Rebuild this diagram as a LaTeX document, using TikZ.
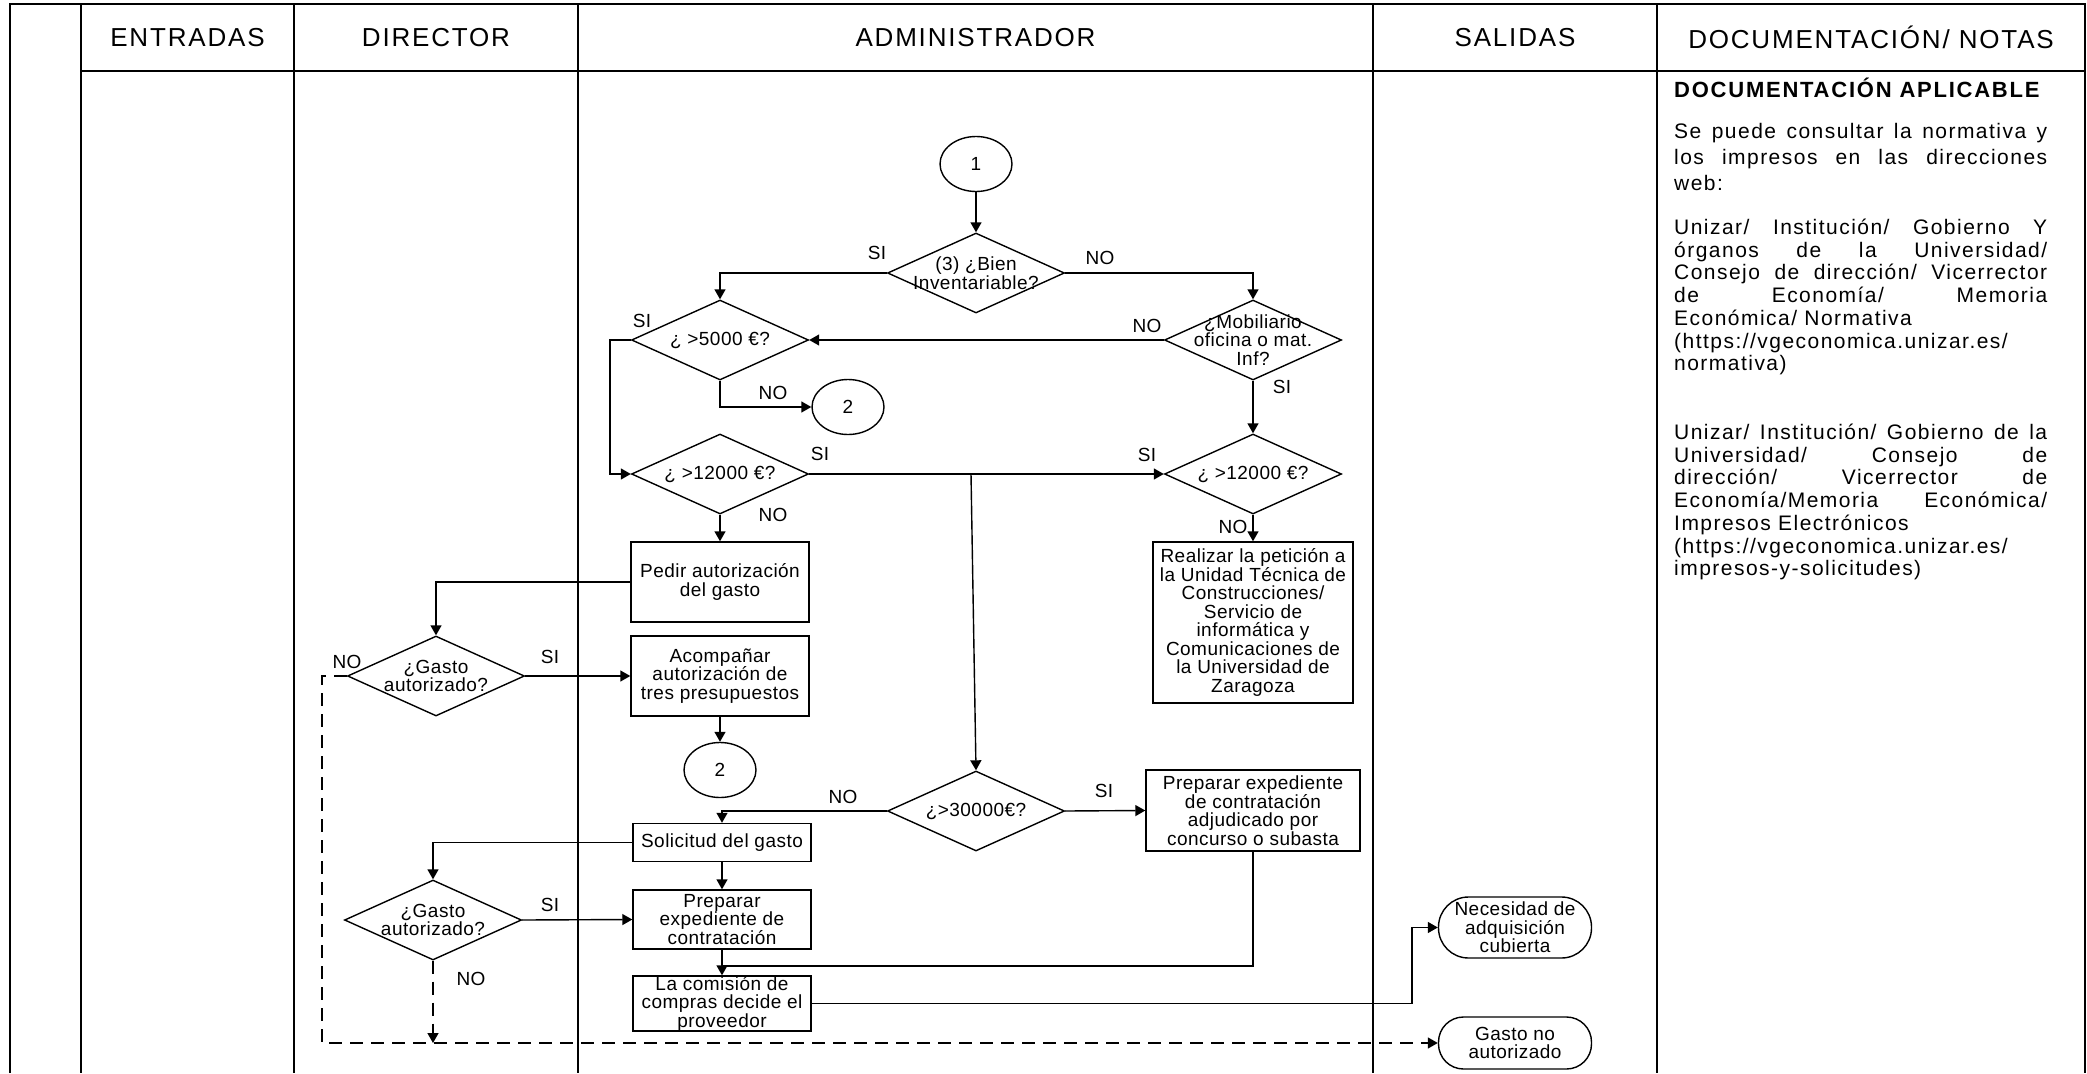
\documentclass[tikz,border=0pt]{standalone}
\usepackage{fontspec}
\setmainfont{Liberation Sans}
\newfontfamily\hdrfam{Liberation Sans}[LetterSpace=7]
\newfontfamily\flowfam{Liberation Sans}[LetterSpace=2.5]
\newfontfamily\docfam{Liberation Sans}[LetterSpace=7]
\newfontfamily\docboldfam{Liberation Sans}[LetterSpace=8]
\newcommand\hdrsize{\hdrfam\fontsize{26}{30}\selectfont}
\newcommand\flowsize{\flowfam\fontsize{19}{18.5}\selectfont}
\newcommand\docsize{\docfam\fontsize{21}{22.7}\selectfont}
\newcommand\docheadsize{\docboldfam\bfseries\fontsize{22}{22.7}\selectfont}
\newcommand\jline[1]{\makebox[373pt][s]{#1}}
\usetikzlibrary{arrows.meta,shapes.geometric}
\begin{document}
\begin{tikzpicture}[x=1pt,y=-1pt,
  lane/.style={line width=2pt},
  hdr/.style={font=\hdrsize, inner sep=0},
  flow/.style={line width=1.4pt, -{Triangle[length=10pt,width=11pt]}},
  plain/.style={line width=1.4pt},
  dashflow/.style={line width=1.4pt, dash pattern=on 13pt off 8pt, -{Triangle[length=10pt,width=11pt]}},
  box/.style={draw, line width=1.4pt, rectangle, inner sep=0, align=center, font=\flowsize, minimum width=178pt},
  dec/.style={draw, line width=1.4pt, diamond, inner sep=0, minimum width=177pt, minimum height=80pt},
  dtxt/.style={font=\flowsize, align=center, inner sep=0},
  conn/.style={draw, line width=1.4pt, ellipse, inner sep=0, minimum width=72pt, minimum height=55pt, font=\flowsize},
  term/.style={draw, line width=1.4pt, rectangle, inner sep=0, align=center, font=\flowsize, minimum width=153pt},
  lbl/.style={font=\flowsize, inner sep=0},
  doctxt/.style={font=\docsize, inner sep=0, anchor=base west},
  dochead/.style={font=\docheadsize, inner sep=0, anchor=base west}]
\useasboundingbox (0,0) rectangle (2087,1073);

% ---- table ----
\draw[lane] (10,1073) -- (10,4) -- (2085,4) -- (2085,1073);
\draw[lane] (81,71) -- (2085,71);
\foreach \xx in {81,294,578,1373,1657} \draw[lane] (\xx,4) -- (\xx,1073);

\node[hdr] (hE) at (187.5,37.5) {ENTRADAS};
\node[hdr] (hD) at (436,37.5) {DIRECTOR};
\node[hdr] (hA) at (975.5,37.5) {ADMINISTRADOR};
\node[hdr] (hS) at (1515,37.5) {SALIDAS};
\node[hdr] (hN) at (1871,37.5) {DOCUMENTACIÓN/ NOTAS};

% ---- flowchart nodes ----
\node[conn] (c1) at (976,164) {1};
\node[dec, label={[dtxt]center:{(3) ¿Bien\\Inventariable?}}] (d1) at (976,273) {};
\node[dec, label={[dtxt]center:{¿Mobiliario\\oficina o mat.\\Inf?}}] (dmob) at (1253,340) {};
\node[dec, label={[dtxt]center:{¿ >5000 €?}}] (d5) at (720,340) {};
\node[conn] (c2a) at (848,407) {2};
\node[dec, label={[dtxt]center:{¿ >12000 €?}}] (d12) at (720,474) {};
\node[dec, label={[dtxt]center:{¿ >12000 €?}}] (d12b) at (1253,474) {};
\node[box, minimum height=80pt] (pedir) at (720,582) {Pedir autorización\\del gasto};
\node[box, minimum width=200pt, minimum height=161pt] (real) at (1253,622.5) {Realizar la petición a\\la Unidad Técnica de\\Construcciones/\\Servicio de\\informática y\\Comunicaciones de\\la Universidad de\\Zaragoza};
\node[dec, label={[dtxt]center:{¿Gasto\\autorizado?}}] (dg1) at (436,676) {};
\node[box, minimum height=80pt] (acomp) at (720,676) {Acompañar\\autorización de\\tres presupuestos};
\node[conn] (c2b) at (720,770) {2};
\node[dec, label={[dtxt]center:{¿>30000€?}}] (d30) at (976,811) {};
\node[box, minimum width=214pt, minimum height=81pt] (psub) at (1253,810.5) {Preparar expediente\\de contratación\\adjudicado por\\concurso o subasta};
\node[box, minimum height=38pt] (solic) at (722,842.5) {Solicitud del gasto};
\node[dec, label={[dtxt]center:{¿Gasto\\autorizado?}}] (dg2) at (433,920) {};
\node[box, minimum height=59pt] (prep) at (722,919.5) {Preparar\\expediente de\\contratación};
\node[box, minimum height=55pt] (com) at (722,1003.5) {La comisión de\\compras decide el\\proveedor};
\node[term, minimum height=61pt, rounded corners=30pt] (nec) at (1515,927.5) {Necesidad de\\adquisición\\cubierta};
\node[term, minimum height=52pt, rounded corners=25pt] (gno) at (1515,1043) {Gasto no\\autorizado};

% ---- helper coordinates ----
\coordinate (lx) at (610,0);
\coordinate (dx) at (322,0);
\coordinate (br) at (971,474);
\coordinate (jn) at (0,966);
\coordinate (kx) at (1412,0);

% ---- connectors ----
\draw[flow] (c1.south) -- (d1.north);
\draw[flow] (d1.west) -| (d5.north);
\draw[flow] (d1.east) -| (dmob.north);
\draw[flow] (dmob.west) -- (d5.east);
\draw[flow] (d5.west) -- (d5.west -| lx) |- (d12.west);
\draw[flow] (d5.south) |- (c2a.west);
\draw[flow] (d12.east) -- (d12b.west);
\draw[flow] (br) -- (d30.north);
\draw[flow] (d12.south) -- (pedir.north);
\draw[flow] (dmob.south) -- (d12b.north);
\draw[flow] (d12b.south) -- (real.north);
\draw[flow] (pedir.west) -| (dg1.north);
\draw[flow] (dg1.east) -- (acomp.west);
\draw[dashflow] (dg1.west) -- (dg1.west -| dx) |- (gno.west);
\draw[flow] (acomp.south) -- (c2b.north);
\draw[flow] (d30.west) -| (solic.north);
\draw[flow] (d30.east) -- (psub.west);
\draw[flow] (solic.south) -- (prep.north);
\draw[flow] (solic.west) -| (dg2.north);
\draw[flow] (dg2.east) -- (prep.west);
\draw[dashflow] (dg2.south) -- (dg2.south |- gno.west);
\draw[flow] (prep.south) -- (com.north);
\draw[plain] (psub.south) |- (prep.south |- jn);
\draw[flow] (com.east) -- (com.east -| kx) |- (nec.west);

% ---- branch labels ----
\node[lbl] (l1) at (877,253) {SI};
\node[lbl] (l2) at (1100,258) {NO};
\node[lbl] (l3) at (1147,326) {NO};
\node[lbl] (l4) at (1282,387) {SI};
\node[lbl] (l5) at (642,321) {SI};
\node[lbl] (l6) at (773,393) {NO};
\node[lbl] (l7) at (820,454) {SI};
\node[lbl] (l8) at (773,515) {NO};
\node[lbl] (l9) at (1147,455) {SI};
\node[lbl] (l10) at (1233,527) {NO};
\node[lbl] (l11) at (347,662) {NO};
\node[lbl] (l12) at (550,657) {SI};
\node[lbl] (l13) at (843,797) {NO};
\node[lbl] (l14) at (1104,791) {SI};
\node[lbl] (l15) at (550,905) {SI};
\node[lbl] (l16) at (471,979) {NO};

% ---- documentation column ----
\node[dochead] (t0) at (1674,97.5) {DOCUMENTACIÓN APLICABLE};
\node[doctxt] (t1) at (1674,138.5) {\jline{Se puede consultar la normativa y}};
\node[doctxt] (t2) at (1674,164.5) {\jline{los impresos en las direcciones}};
\node[doctxt] (t3) at (1674,190.5) {web:};
\node[doctxt] (t4) at (1674,234.5) {\jline{Unizar/ Institución/ Gobierno Y}};
\node[doctxt] (t5) at (1674,257.2) {\jline{órganos de la Universidad/}};
\node[doctxt] (t6) at (1674,279.9) {\jline{Consejo de dirección/ Vicerrector}};
\node[doctxt] (t7) at (1674,302.6) {\jline{de Economía/ Memoria}};
\node[doctxt] (t8) at (1674,325.3) {Económica/ Normativa};
\node[doctxt] (t9) at (1674,348) {(https://vgeconomica.unizar.es/};
\node[doctxt] (t10) at (1674,370.7) {normativa)};
\node[doctxt] (t11) at (1674,439.5) {\jline{Unizar/ Institución/ Gobierno de la}};
\node[doctxt] (t12) at (1674,462.2) {\jline{Universidad/ Consejo de}};
\node[doctxt] (t13) at (1674,484.9) {\jline{dirección/ Vicerrector de}};
\node[doctxt] (t14) at (1674,507.6) {\jline{Economía/Memoria Económica/}};
\node[doctxt] (t15) at (1674,530.3) {Impresos Electrónicos};
\node[doctxt] (t16) at (1674,553) {(https://vgeconomica.unizar.es/};
\node[doctxt] (t17) at (1674,575.7) {impresos-y-solicitudes)};
\end{tikzpicture}
\end{document}
